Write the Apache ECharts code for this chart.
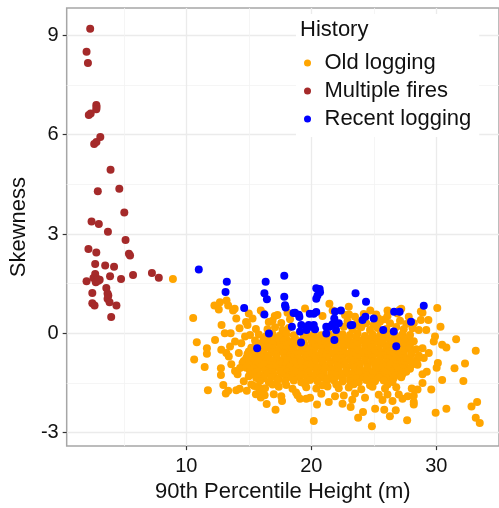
<!DOCTYPE html>
<html>
<head>
<meta charset="utf-8">
<script src="https://cdn.jsdelivr.net/npm/echarts@6/dist/echarts.min.js"></script>
<style>
  html, body { margin: 0; padding: 0; background: #fff; }
  #chart { width: 499px; height: 508px; }
</style>
</head>
<body>
<div id="chart"></div>
<script>
// History groups, values: [90th percentile height (m), skewness]
const oldLogging = [
  // scattered outer points
  [8.93,1.64],[10.55,0.46],[10.84,-0.27],[10.63,-0.79],[12.25,0.84],[12.69,0.94],[13.22,0.99],[13.35,0.84],
  [13.74,0.69],[13.87,0.74],[12.6,0.72],[12.82,0.25],[14.26,0.15],[14.78,0.34],[14.9,0.25],[15.57,0.13],
  [15.96,0.69],[16.17,0.6],[16.6,0.34],[17.08,0.52],[13.08,0.0],[13.55,0.0],[11.65,-0.45],[11.65,-0.62],
  [11.47,-1.02],[12.8,-0.5],[13.2,-0.6],[13.5,-0.4],[13.4,-0.7],[12.77,-1.06],[12.77,-1.26],[13.6,-0.94],
  [13.9,-1.14],[14.1,-1.24],[12.96,-1.56],[11.73,-1.72],[13.16,-1.82],[13.35,-1.74],[14.0,-1.72],[14.27,-1.68],
  [14.84,-1.74],[15.44,-1.59],[15.57,-1.84],[15.96,-1.94],[16.27,-1.87],[16.43,-2.14],[17.14,-2.31],[17.66,-2.05],
  [18.78,-1.79],[19.1,-1.98],[19.6,-1.98],[20.2,-2.65],[21.4,-2.08],[20.46,-2.15],[22.5,-2.13],[23.15,-2.23],
  [23.28,-2.01],[23.75,-2.55],[24.14,-2.38],[24.85,-2.81],[25.11,-2.28],[25.84,-2.31],[26.29,-2.51],[26.76,-2.33],
  [27.67,-2.63],[25.7,-2.02],[26.5,-2.05],[27.3,-1.98],[28.5,-1.7],[28.2,-1.89],[21.45,0.89],[21.71,0.69],
  [23.02,0.57],[24.72,0.69],[25.37,0.45],[26.1,0.69],[27.07,0.7],[27.2,0.74],[27.8,0.5],[28.2,0.3],
  [28.6,0.1],[28.9,0.62],[28.9,-1.24],[29.0,-0.75],[28.5,-0.95],[30.08,0.76],[28.77,0.66],[28.77,0.4],
  [29.37,0.4],[30.34,0.2],[31.59,-0.18],[33.16,-0.53],[29.9,-0.1],[29.8,-0.25],[30.47,-0.35],[30.81,-0.43],
  [32.3,-0.91],[31.46,-1.06],[30.13,-0.9],[30.03,-1.04],[30.47,-1.41],[32.17,-1.44],[29.24,-1.16],[28.04,-1.67],
  [27.72,-1.9],[28.2,-2.08],[28.2,-2.15],[33.27,-2.08],[32.82,-2.21],[29.95,-2.4],[30.81,-2.28],[33.16,-2.55],
  [33.48,-2.71],[23.0,0.8],[19.5,0.75],[14.4,-0.3],[14.2,-0.6],[14.5,-0.9],[15.0,-1.3],[14.6,-1.45],
  [12.3,-0.2],[15.3,0.45],[15.0,0.6],[14.0,0.45],[15.8,-1.65],[13.9,-0.25],[14.7,-0.1],[15.1,-0.05],
  [14.3,-1.05],[15.2,-1.55],[16.1,-1.75],[17.6,-1.9],[19.9,-1.95],[21.9,-1.9],[24.3,-1.95],[26.1,-1.85],
  [28.9,-0.45],[29.4,-0.6],[29.2,0.1],[28.9,-1.5],[29.6,-1.7],[24.2,0.58],[25.9,0.42],[27.6,0.28],
  // dense core
  [16.9,0.38],[17.6,0.31],[18.3,0.42],[22.9,0.37],[23.7,0.32],[25.5,0.35],[26.3,0.3],[27.1,0.38],
  [17.3,0.55],[18.1,0.62],[20.9,0.52],[22.7,0.55],[23.5,0.5],[25.2,0.57],[26.1,0.52],[26.9,0.6],
  [16.5,0.12],[17.1,0.18],[17.7,0.1],[18.2,0.16],[22.6,0.2],[23.3,0.12],[24.0,0.18],[24.7,0.1],
  [25.3,0.16],[26.0,0.13],[26.8,0.19],[27.4,0.12],[28.1,0.15],[24.4,0.3],[25.0,0.26],[23.8,0.22],
  [15.8,-0.04],[16.4,-0.08],[16.9,-0.02],[17.5,-0.07],[18.0,-0.03],[18.6,-0.06],[19.7,-0.08],[20.2,-0.04],
  [20.8,-0.06],[21.4,-0.02],[22.0,-0.07],[22.5,-0.03],[23.1,-0.05],[23.7,-0.01],[24.3,-0.08],[24.9,-0.04],
  [25.5,-0.06],[26.1,-0.02],[26.7,-0.07],[27.3,-0.03],[27.9,-0.05],
  [16.2,-0.14],[16.8,-0.16],[17.4,-0.13],[18.0,-0.17],[18.7,-0.15],[19.4,-0.12],[20.0,-0.16],[20.6,-0.14],
  [21.2,-0.17],[21.8,-0.13],[22.4,-0.15],[23.0,-0.16],[23.6,-0.12],[24.2,-0.17],[24.8,-0.14],[25.4,-0.15],
  [26.0,-0.13],[26.6,-0.17],[27.2,-0.14],[27.8,-0.16],
  [15.5,-0.22],[16.1,-0.27],[16.7,-0.24],[17.2,-0.28],[17.8,-0.21],[18.3,-0.26],[18.9,-0.23],[19.4,-0.29],
  [20.0,-0.22],[20.6,-0.25],[21.1,-0.28],[21.7,-0.21],[22.3,-0.26],[22.8,-0.23],[23.4,-0.27],[24.0,-0.22],
  [24.5,-0.28],[25.1,-0.24],[25.7,-0.21],[26.3,-0.27],[26.9,-0.23],[27.5,-0.26],[28.2,-0.24],
  [15.6,-0.34],[16.3,-0.36],[16.9,-0.33],[17.5,-0.37],[18.0,-0.35],[18.7,-0.34],[19.5,-0.37],[20.1,-0.33],
  [20.7,-0.36],[21.3,-0.35],[21.9,-0.37],[22.5,-0.33],[23.1,-0.36],[23.7,-0.34],[24.3,-0.36],[24.9,-0.35],
  [25.5,-0.33],[26.1,-0.37],[26.7,-0.34],[27.3,-0.36],[27.9,-0.35],
  [15.2,-0.44],[15.8,-0.47],[16.4,-0.42],[16.9,-0.46],[17.5,-0.43],[18.1,-0.48],[18.6,-0.41],[19.2,-0.45],
  [19.7,-0.49],[20.3,-0.43],[20.9,-0.46],[21.4,-0.42],[22.0,-0.47],[22.6,-0.44],[23.2,-0.41],[23.7,-0.48],
  [24.3,-0.45],[24.8,-0.42],[25.4,-0.47],[26.0,-0.43],[26.6,-0.46],[27.2,-0.41],[27.8,-0.45],[28.4,-0.48],
  [15.0,-0.55],[15.6,-0.56],[16.2,-0.53],[16.8,-0.57],[17.3,-0.54],[17.9,-0.56],[18.5,-0.53],[19.0,-0.57],
  [19.6,-0.55],[20.2,-0.54],[20.8,-0.57],[21.4,-0.53],[22.0,-0.56],[22.6,-0.55],[23.2,-0.57],[23.8,-0.53],
  [24.4,-0.56],[25.0,-0.54],[25.6,-0.57],[26.2,-0.55],[26.8,-0.53],[27.4,-0.56],[28.0,-0.54],
  [14.9,-0.63],[15.5,-0.66],[16.1,-0.62],[16.6,-0.68],[17.2,-0.64],[17.8,-0.61],[18.3,-0.67],[18.9,-0.63],
  [19.5,-0.66],[20.0,-0.62],[20.6,-0.68],[21.2,-0.64],[21.7,-0.61],[22.3,-0.66],[22.9,-0.63],[23.4,-0.68],
  [24.0,-0.62],[24.6,-0.65],[25.1,-0.61],[25.7,-0.67],[26.3,-0.64],[26.9,-0.62],[27.4,-0.66],[28.0,-0.63],
  [28.6,-0.67],
  [14.8,-0.75],[15.4,-0.76],[16.0,-0.73],[16.6,-0.77],[17.2,-0.74],[17.8,-0.76],[18.4,-0.73],[19.0,-0.77],
  [19.6,-0.75],[20.2,-0.74],[20.8,-0.77],[21.3,-0.73],[21.9,-0.76],[22.5,-0.75],[23.1,-0.77],[23.7,-0.73],
  [24.3,-0.76],[24.9,-0.74],[25.5,-0.77],[26.1,-0.75],[26.7,-0.73],[27.3,-0.76],[27.9,-0.74],[28.5,-0.77],
  [14.6,-0.84],[15.2,-0.87],[15.8,-0.82],[16.4,-0.86],[16.9,-0.83],[17.5,-0.88],[18.1,-0.81],[18.6,-0.85],
  [19.2,-0.87],[19.8,-0.82],[20.3,-0.86],[20.9,-0.84],[21.5,-0.88],[22.0,-0.81],[22.6,-0.85],[23.2,-0.83],
  [23.7,-0.87],[24.3,-0.82],[24.9,-0.86],[25.4,-0.84],[26.0,-0.88],[26.6,-0.83],[27.1,-0.85],[27.7,-0.82],
  [28.3,-0.87],
  [15.0,-0.95],[15.6,-0.96],[16.2,-0.93],[16.8,-0.97],[17.4,-0.94],[18.0,-0.96],[18.6,-0.93],[19.1,-0.97],
  [19.7,-0.95],[20.3,-0.94],[20.9,-0.97],[21.5,-0.93],[22.1,-0.96],[22.7,-0.95],[23.3,-0.97],[23.9,-0.93],
  [24.5,-0.96],[25.1,-0.94],[25.7,-0.97],[26.3,-0.95],[26.9,-0.93],[27.5,-0.96],[28.1,-0.94],
  [14.8,-1.04],[15.4,-1.07],[16.0,-1.02],[16.6,-1.06],[17.1,-1.03],[17.7,-1.08],[18.3,-1.01],[18.8,-1.05],
  [19.4,-1.07],[20.0,-1.02],[20.5,-1.06],[21.1,-1.04],[21.7,-1.08],[22.2,-1.01],[22.8,-1.05],[23.4,-1.03],
  [23.9,-1.07],[24.5,-1.02],[25.1,-1.06],[25.6,-1.04],[26.2,-1.08],[26.8,-1.03],[27.3,-1.05],[27.9,-1.07],
  [15.1,-1.15],[15.7,-1.16],[16.3,-1.13],[16.9,-1.17],[17.5,-1.14],[18.1,-1.16],[18.6,-1.13],[19.2,-1.17],
  [19.8,-1.15],[20.4,-1.14],[21.0,-1.17],[21.6,-1.13],[22.2,-1.16],[22.8,-1.15],[23.4,-1.17],[24.0,-1.13],
  [24.6,-1.16],[25.2,-1.14],[25.8,-1.17],[26.4,-1.15],[27.0,-1.13],[27.6,-1.16],
  [15.3,-1.24],[15.9,-1.27],[16.5,-1.22],[17.0,-1.26],[17.6,-1.23],[18.2,-1.28],[18.7,-1.21],[19.3,-1.25],
  [19.9,-1.27],[20.4,-1.22],[21.0,-1.26],[21.6,-1.24],[22.1,-1.28],[22.7,-1.21],[23.3,-1.25],[23.8,-1.23],
  [24.4,-1.27],[25.0,-1.22],[25.5,-1.26],[26.1,-1.24],[26.7,-1.28],[27.3,-1.23],
  [15.6,-1.35],[16.2,-1.36],[16.8,-1.33],[17.4,-1.37],[18.0,-1.34],[18.5,-1.36],[19.1,-1.33],[19.7,-1.37],
  [20.2,-1.35],[20.8,-1.34],[21.4,-1.37],[21.9,-1.33],[22.5,-1.36],[23.1,-1.35],[23.6,-1.37],[24.2,-1.33],
  [24.8,-1.36],[25.4,-1.34],[26.0,-1.37],[26.6,-1.35],[27.2,-1.33],
  [15.9,-1.44],[16.6,-1.47],[17.3,-1.42],[17.9,-1.46],[18.6,-1.43],[19.2,-1.48],[19.9,-1.41],[20.5,-1.45],
  [21.2,-1.47],[21.8,-1.42],[22.5,-1.46],[23.1,-1.44],[23.8,-1.48],[24.4,-1.41],[25.1,-1.45],[25.8,-1.43],
  [26.5,-1.47],
  [16.9,-1.55],[18.0,-1.56],[19.5,-1.54],[20.9,-1.57],[22.0,-1.55],[23.4,-1.54],[24.7,-1.57],[26.1,-1.55],
  [16.3,-1.66],[17.4,-1.62],[18.5,-1.68],[19.6,-1.63],[20.4,-1.67],[21.3,-1.61],[22.2,-1.66],[23.0,-1.64],
  [24.0,-1.69],[24.9,-1.62],[25.9,-1.67],[26.8,-1.63],
  [17.0,-1.84],[18.9,-1.87],[20.8,-1.83],[22.6,-1.88],[23.5,-1.82],[25.4,-1.86],[27.0,-1.85]
];

const multipleFires = [
  [2.31,9.2],[2.02,8.51],[2.13,8.17],[2.8,6.9],[2.82,6.84],[2.8,6.77],[2.2,6.6],[2.35,6.64],
  [3.12,5.93],[2.63,5.72],[2.81,5.78],[3.94,4.94],[2.92,4.29],[4.64,4.37],[5.04,3.65],[2.42,3.38],
  [3.0,3.3],[3.73,3.07],[5.14,2.82],[2.17,2.55],[2.8,2.44],[5.41,2.4],[5.5,2.35],[2.71,2.09],
  [3.51,2.05],[4.22,2.01],[7.25,1.82],[7.8,1.68],[5.74,1.76],[3.9,1.72],[4.78,1.64],[2.02,1.57],
  [2.71,1.79],[2.57,1.67],[2.89,1.64],[3.07,1.62],[2.76,1.54],[2.96,1.59],[2.48,1.22],[3.6,1.37],
  [3.7,1.2],[3.76,1.14],[3.7,1.04],[3.86,0.94],[2.48,0.91],[2.66,0.84],[4.41,0.84],[3.99,0.49]
];

const recentLogging = [
  [11.0,1.93],[13.24,1.56],[13.14,1.25],[14.63,0.76],[16.35,1.56],[16.25,1.21],[16.45,1.03],[16.25,0.57],
  [17.84,1.74],[17.84,1.1],[17.9,0.85],[17.95,0.78],[16.61,-0.01],[15.67,-0.45],[18.58,0.61],[19.0,0.56],
  [19.05,0.49],[18.45,0.2],[19.2,0.25],[19.1,0.05],[19.62,0.1],[19.18,-0.28],[19.88,0.59],[20.2,0.59],
  [19.8,0.25],[20.0,0.2],[20.2,0.25],[20.3,0.12],[20.4,1.36],[20.67,1.34],[20.7,1.24],[20.5,1.14],
  [20.4,1.04],[20.4,0.64],[21.45,0.2],[21.98,0.1],[21.85,-0.2],[21.9,0.66],[22.37,0.69],[21.84,0.45],
  [22.2,0.3],[23.54,1.21],[24.38,0.95],[24.33,0.5],[24.1,0.4],[25.0,0.45],[23.28,0.25],[23.15,0.24],
  [25.76,0.1],[26.63,0.65],[27.07,0.65],[26.8,-0.39],[26.6,0.05],[29.0,0.83],[27.98,0.35],[21.2,0.2],
  [21.7,0.27],[18.7,0.62],[21.2,-0.01]
];

const historyNames = ['Old logging', 'Multiple fires', 'Recent logging'];
const historyColors = ['#FFA500', '#A52A2A', '#0000FF'];
const xTicks = [10, 20, 30];
const xMinorTicks = [5, 15, 25, 35];
const yTicks = [-3, 0, 3, 6, 9];
const yMinorTicks = [-1.5, 1.5, 4.5, 7.5];

const font = 'Liberation Sans, Arial, sans-serif';
const xRange = [0.43, 35.02];
const yRange = [-3.41, 9.83];

const chart = echarts.init(document.getElementById('chart'));

const majorAxis = (ticks, margin) => ({
  axisLine: { show: false, onZero: false },
  axisTick: { customValues: ticks, length: 4, lineStyle: { color: '#333', width: 1.2 } },
  axisLabel: { customValues: ticks, fontSize: 20, color: '#111', fontFamily: font, margin: margin },
  splitLine: { show: true, lineStyle: { color: '#ebebeb', width: 1.3 } }
});
const minorAxis = (ticks) => ({
  axisLine: { show: false, onZero: false },
  axisTick: { show: false, customValues: ticks },
  axisLabel: { show: false, customValues: ticks },
  splitLine: { show: true, lineStyle: { color: '#f3f3f3', width: 0.8 } }
});

const seriesData = [oldLogging, multipleFires, recentLogging];

chart.setOption({
  animation: false,
  backgroundColor: '#fff',
  title: {
    text: 'History', left: 300, top: 19, padding: 0,
    textStyle: { fontSize: 22, fontWeight: 'normal', color: '#111', fontFamily: font }
  },
  legend: {
    data: historyNames,
    orient: 'vertical', left: 296, top: 14,
    backgroundColor: '#fff',
    padding: [38, 8, 7, 8],
    itemWidth: 24, itemHeight: 7, itemGap: 6,
    icon: 'circle',
    selectedMode: false,
    textStyle: { fontSize: 22, lineHeight: 22, color: '#111', fontFamily: font }
  },
  grid: {
    left: 62, top: 8, right: -4, bottom: 55,
    show: true, borderColor: '#a6a6a6', borderWidth: 1.5, backgroundColor: 'transparent'
  },
  xAxis: [
    Object.assign({
      type: 'value', min: xRange[0], max: xRange[1], position: 'bottom',
      name: '90th Percentile Height (m)', nameLocation: 'middle', nameGap: 32,
      nameTextStyle: { fontSize: 22, color: '#111', fontFamily: font }
    }, majorAxis(xTicks, 10)),
    Object.assign({ type: 'value', min: xRange[0], max: xRange[1], position: 'bottom' }, minorAxis(xMinorTicks))
  ],
  yAxis: [
    Object.assign({
      type: 'value', min: yRange[0], max: yRange[1], position: 'left',
      name: 'Skewness', nameLocation: 'middle', nameGap: 28, nameRotate: 90,
      nameTextStyle: { fontSize: 22, color: '#111', fontFamily: font }
    }, majorAxis(yTicks, 8)),
    Object.assign({ type: 'value', min: yRange[0], max: yRange[1], position: 'left' }, minorAxis(yMinorTicks))
  ],
  series: historyNames.map((name, i) => ({
    name: name,
    type: 'scatter',
    xAxisIndex: 0, yAxisIndex: 0,
    symbolSize: 8,
    itemStyle: { color: historyColors[i], opacity: 1 },
    emphasis: { disabled: true },
    data: seriesData[i]
  }))
});
</script>
</body>
</html>
